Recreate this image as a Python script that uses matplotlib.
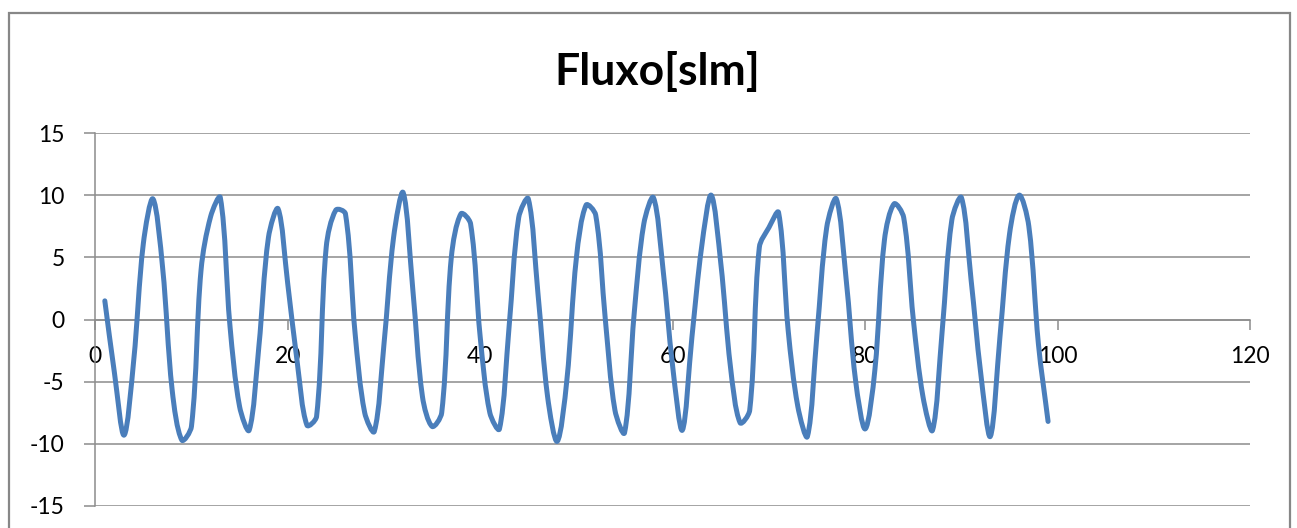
import numpy as np
import matplotlib
matplotlib.use('Agg')
import matplotlib.pyplot as plt
from matplotlib.path import Path
from matplotlib.patches import PathPatch, Rectangle

# Amostras e leituras de fluxo
amostras = list(range(1, 100))
fluxo = [
    1.5, -4.3, -9.3, -3.3, 6.1, 9.7, 4.2, -5.7, -9.7, -8.6,
    4.0, 8.3, 9.8, -0.5, -7.0, -8.9, -2.2, 6.6, 8.9, 2.9,
    -3.5, -8.5, -7.8, 5.8, 8.8, 8.5, -1.1, -7.5, -9.0, -2.0,
    6.6, 10.2, 2.4, -6.2, -8.6, -7.5, 5.0, 8.5, 7.7, -1.4,
    -7.5, -8.8, -0.6, 8.2, 9.7, 2.1, -6.2, -9.8, -4.9, 5.0,
    9.2, 8.4, 0.0, -7.3, -9.1, 0.5, 7.7, 9.8, 4.0, -3.8,
    -8.9, -1.4, 5.8, 10.0, 4.5, -3.8, -8.3, -7.3, 5.8, 7.4,
    8.6, -0.9, -7.0, -9.4, -1.1, 7.4, 9.7, 3.4, -4.9, -8.8,
    -4.1, 6.4, 9.3, 8.2, 0.0, -6.2, -8.9, -0.9, 8.0, 9.8,
    3.2, -4.3, -9.4, -1.4, 6.9, 10.0, 7.5, -2.0, -8.2,
]
titulo = "Fluxo[slm]"
x_ticks = [0, 20, 40, 60, 80, 100, 120]
y_ticks = [-15, -10, -5, 0, 5, 10, 15]

plt.rcParams['font.family'] = ['Lato', 'DejaVu Sans']
plt.rcParams['axes.unicode_minus'] = False

W, H = 1297, 528
azul = '#4A7EBB'
cinza = '#8C8C8C'


def curva_suave(x, y, escala=(9.625, 12.43), t=1 / 3):
    """Linha suavizada: bezier cubica com tangentes ponderadas pelo
    comprimento dos segmentos (evita 'ondas' nos trechos curtos)."""
    p = np.column_stack([x, y]).astype(float)
    ext = np.vstack([p[0], p, p[-1]])
    s = np.array(escala)
    comp = np.hypot(*((np.diff(ext, axis=0)) * s).T)
    verts = [p[0]]
    codes = [Path.MOVETO]
    for i in range(1, len(ext) - 2):
        l0, l1, l2 = comp[i - 1], comp[i], comp[i + 1]
        f1 = l1 / (l0 + l1) if l0 + l1 > 0 else 0.5
        f2 = l1 / (l1 + l2) if l1 + l2 > 0 else 0.5
        c1 = ext[i] + t * f1 * (ext[i + 1] - ext[i - 1])
        c2 = ext[i + 1] - t * f2 * (ext[i + 2] - ext[i])
        verts += [c1, c2, ext[i + 1]]
        codes += [Path.CURVE4] * 3
    return Path(verts, codes)


fig = plt.figure(figsize=(W / 100, H / 100), dpi=100)

# moldura do grafico
fig.patches.append(Rectangle((9 / W, -0.05), (1290 - 9) / W, 1 - 13 / H + 0.05,
                             transform=fig.transFigure, fill=False,
                             edgecolor='#878787', lw=1.6))

ax = fig.add_axes([95.2 / W, 22 / H, 1155 / W, 373 / H])
ax.set_xlim(0, 120)
ax.set_ylim(-15, 15)
ax.set_xticks(x_ticks)
ax.set_yticks(y_ticks)
ax.grid(axis='y', color=cinza, lw=1.1)
ax.set_axisbelow(True)

for lado in ['top', 'right']:
    ax.spines[lado].set_visible(False)
ax.spines['bottom'].set_position(('data', 0))
ax.spines['bottom'].set_color(cinza)
ax.spines['left'].set_color(cinza)
ax.spines['bottom'].set_linewidth(1.1)
ax.spines['left'].set_linewidth(1.1)

ax.tick_params(axis='x', direction='out', length=7, width=1.1, color=cinza,
               pad=12, labelsize=16.5, labelcolor='#000000')
ax.tick_params(axis='y', direction='out', length=8, width=1.1, color=cinza,
               pad=14, labelsize=16.5, labelcolor='#000000')

linha = PathPatch(curva_suave(amostras, fluxo), facecolor='none', edgecolor=azul,
                  lw=3.6, capstyle='round', joinstyle='round', zorder=3)
ax.add_patch(linha)

fig.text(657 / W, 1 - 72 / H, titulo, ha='center', va='center',
         fontsize=32, fontweight='bold')

fig.savefig('out.png', dpi=100)
